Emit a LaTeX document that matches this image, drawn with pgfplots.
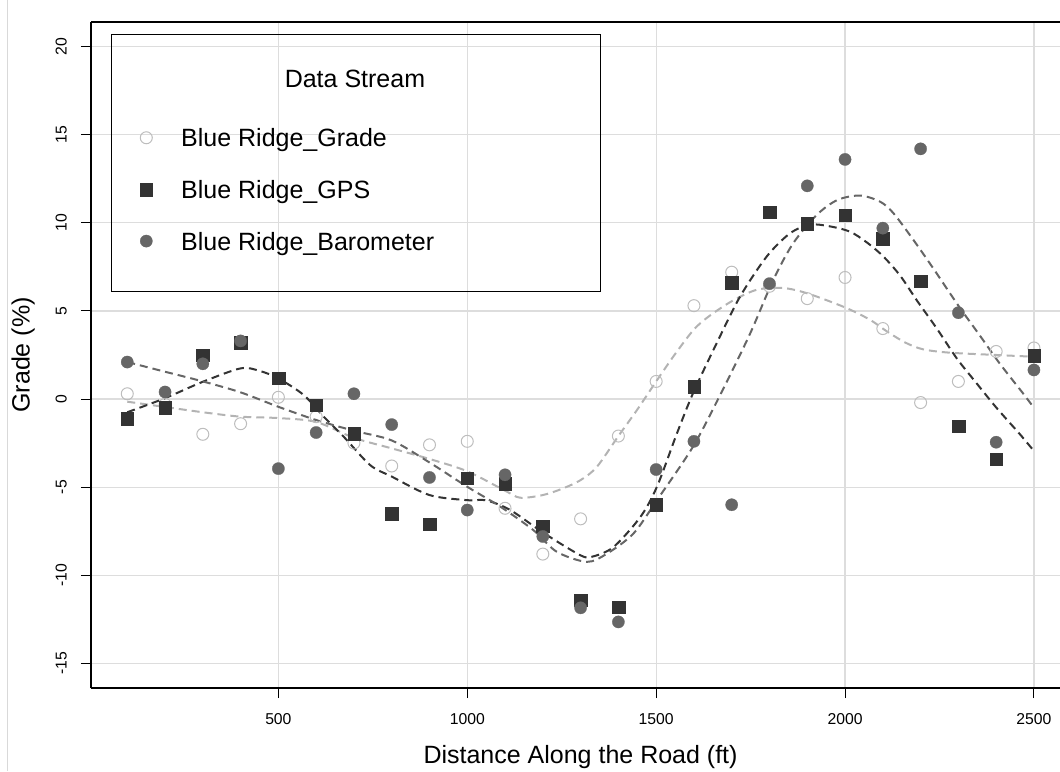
\documentclass[border=0pt]{standalone}
\usepackage{fontspec}
\setmainfont{Liberation Sans}
\usepackage{pgfplots}
\pgfplotsset{compat=1.18}
\definecolor{gpsc}{HTML}{333333}
\definecolor{baroc}{HTML}{666666}
\definecolor{gradec}{HTML}{B3B3B3}
\definecolor{gradept}{HTML}{BDBDBD}
\definecolor{gridc}{HTML}{DDDDDD}
\begin{document}
\begin{tikzpicture}
\begin{axis}[name=ax, at={(0,0)}, anchor=south west,
 scale only axis, width=726.75pt, height=499.5pt,
 xmin=4, xmax=2569, ymin=-16.4, ymax=21.4,
 axis x line*=box, axis y line*=left,
 xtick={500,1000,1500,2000,2500}, ytick={-15,-10,...,20},
 tick pos=left, tick align=outside, major tick length=7.5pt,
 tick style={black, line width=0.8pt},
 axis line style={black, line width=0.8pt},
 grid=major, major grid style={gridc, line width=0.9pt},
 scaled ticks=false,
 /pgf/number format/1000 sep={},
 /pgf/number format/assume math mode=true,
 ticklabel style={font=\fontsize{11.8}{14}\selectfont},
 xticklabel style={anchor=north, inner xsep=0pt, inner ysep=11.25pt, text height=8.45pt, text depth=0pt},
 yticklabel style={rotate=90, anchor=south, inner xsep=0pt, inner ysep=10.5pt, text height=8.45pt, text depth=0pt},
 every axis x label/.style={at={(rel axis cs:0.5052,0)}, anchor=north, inner xsep=0pt, inner ysep=56.25pt, text height=0pt, text depth=0pt, font=\fontsize{18.75}{22}\selectfont},
 every axis y label/.style={at={(rel axis cs:0,0.5)}, rotate=90, anchor=south, inner xsep=0pt, inner ysep=45.75pt, text height=0pt, text depth=0pt, font=\fontsize{18.75}{22}\selectfont},
 xlabel={Distance Along the Road (ft)},
 ylabel={Grade (\%)},
 legend style={at={(rel axis cs:0.0506,0.8396)}, anchor=north west, draw=none, fill=none, inner sep=0pt, outer sep=0pt, row sep=25.35pt, column sep=21.5pt, font=\fontsize{18.75}{22}\selectfont, nodes={inner sep=0pt, text height=13.4pt, text depth=0pt}},
 legend cell align=left,
 legend image code/.code={\draw[#1] plot coordinates {(0pt,0pt)};},
]
% points
\addplot[only marks, mark=o, mark size=4.5pt, mark options={draw=gradept, line width=0.75pt}] coordinates {
(100,0.3) (200,-0.3) (300,-2.0) (400,-1.4) (500,0.1) (600,-1.0) (700,-2.5) (800,-3.8) (900,-2.6) (1000,-2.4)
(1100,-6.2) (1200,-8.8) (1300,-6.8) (1400,-2.1) (1500,1.0) (1600,5.3) (1700,7.2) (1800,6.4) (1900,5.7) (2000,6.9)
(2100,4.0) (2200,-0.2) (2300,1.0) (2400,2.7) (2500,2.9)};
\addlegendentry{Blue Ridge\_Grade}
\addplot[only marks, mark=square*, mark size=4.7pt, mark options={draw=gpsc, fill=gpsc, line width=0.2pt}] coordinates {
(100,-1.1) (200,-0.5) (300,2.5) (400,3.2) (500,1.2) (600,-0.35) (700,-1.95) (800,-6.5) (900,-7.1) (1000,-4.5)
(1100,-4.8) (1200,-7.2) (1300,-11.4) (1400,-11.8) (1500,-6.0) (1600,0.7) (1700,6.6) (1800,10.6) (1900,9.95) (2000,10.45)
(2100,9.1) (2200,6.7) (2300,-1.55) (2400,-3.4) (2500,2.45)};
\addlegendentry{Blue Ridge\_GPS}
\addplot[only marks, mark=*, mark size=4.6pt, mark options={draw=baroc, fill=baroc, line width=0.2pt}] coordinates {
(100,2.1) (200,0.4) (300,2.0) (400,3.3) (500,-3.95) (600,-1.9) (700,0.3) (800,-1.45) (900,-4.45) (1000,-6.3)
(1100,-4.3) (1200,-7.8) (1300,-11.85) (1400,-12.65) (1500,-4.0) (1600,-2.4) (1700,-6.0) (1800,6.55) (1900,12.1) (2000,13.6)
(2100,9.7) (2200,14.2) (2300,4.9) (2400,-2.45) (2500,1.65)};
\addlegendentry{Blue Ridge\_Barometer}
% smooth curves
\addplot[forget plot, gradec, line width=1.5pt, dash pattern=on 6pt off 3.75pt, smooth] coordinates {
(100,-0.15) (200,-0.45) (300,-0.75) (400,-1.0) (500,-1.08) (600,-1.3) (700,-2.2) (800,-2.8) (900,-3.4) (1000,-4.1)
(1100,-5.2) (1140,-5.6) (1200,-5.45) (1250,-5.1) (1300,-4.6) (1343,-3.85) (1400,-2.1) (1450,-0.6) (1500,1.0)
(1550,2.55) (1600,3.95) (1640,4.7) (1700,5.55) (1766,6.2) (1836,6.3) (1900,6.0) (2000,5.2) (2066,4.5) (2110,3.85)
(2160,3.2) (2207,2.82) (2278,2.63) (2401,2.5) (2500,2.4)};
\addplot[forget plot, gpsc, line width=1.5pt, dash pattern=on 6pt off 3.75pt, smooth] coordinates {
(100,-0.75) (200,0.05) (300,0.98) (400,1.74) (450,1.6) (500,1.17) (567,0.23) (620,-1.0) (673,-2.14) (743,-3.75)
(800,-4.4) (900,-5.45) (1000,-5.74) (1050,-5.75) (1114,-6.3) (1202,-7.6) (1299,-8.86) (1330,-8.95) (1387,-8.4)
(1458,-6.7) (1502,-4.98) (1555,-1.95) (1599,0.4) (1660,3.16) (1722,5.81) (1793,8.1) (1854,9.4) (1907,9.9) (1960,9.8)
(2013,9.5) (2057,8.9) (2101,8.1) (2146,7.0) (2190,5.6) (2243,4.0) (2296,2.3) (2348,0.9) (2401,-0.5)
(2463,-2.0) (2500,-2.95)};
\addplot[forget plot, baroc, line width=1.5pt, dash pattern=on 6pt off 3.75pt, smooth] coordinates {
(100,2.1) (200,1.55) (300,1.0) (400,0.38) (500,-0.44) (600,-1.19) (700,-1.8) (800,-2.35) (900,-3.6) (1000,-4.98)
(1087,-6.1) (1175,-7.44) (1237,-8.67) (1317,-9.24) (1370,-8.77) (1440,-7.63) (1502,-5.74) (1599,-2.65) (1678,0.6)
(1749,3.73) (1810,6.76) (1863,8.85) (1925,10.45) (1980,11.3) (2040,11.55) (2093,11.2) (2128,10.55) (2181,9.03)
(2234,7.4) (2300,5.3) (2357,3.6) (2410,2.0) (2472,0.3) (2500,-0.5)};
% legend frame and title
\draw[black, line width=0.75pt] (rel axis cs:0.02064,0.5946) rectangle (rel axis cs:0.5253,0.9805);
\node[anchor=base, inner sep=0pt, font=\fontsize{18.75}{22}\selectfont] at (rel axis cs:0.2724,0.9020) {Data Stream};
\end{axis}
\draw[gray!30, line width=0.75pt] ([shift={(-62.25pt,-62.25pt)}]ax.south west) -- ([shift={(-62.25pt,516pt)}]ax.south west);
\pgfresetboundingbox
\path[use as bounding box] ([shift={(-68.25pt,-62.25pt)}]ax.south west) rectangle ([shift={(726.75pt,516pt)}]ax.south west);
\end{tikzpicture}
\end{document}
